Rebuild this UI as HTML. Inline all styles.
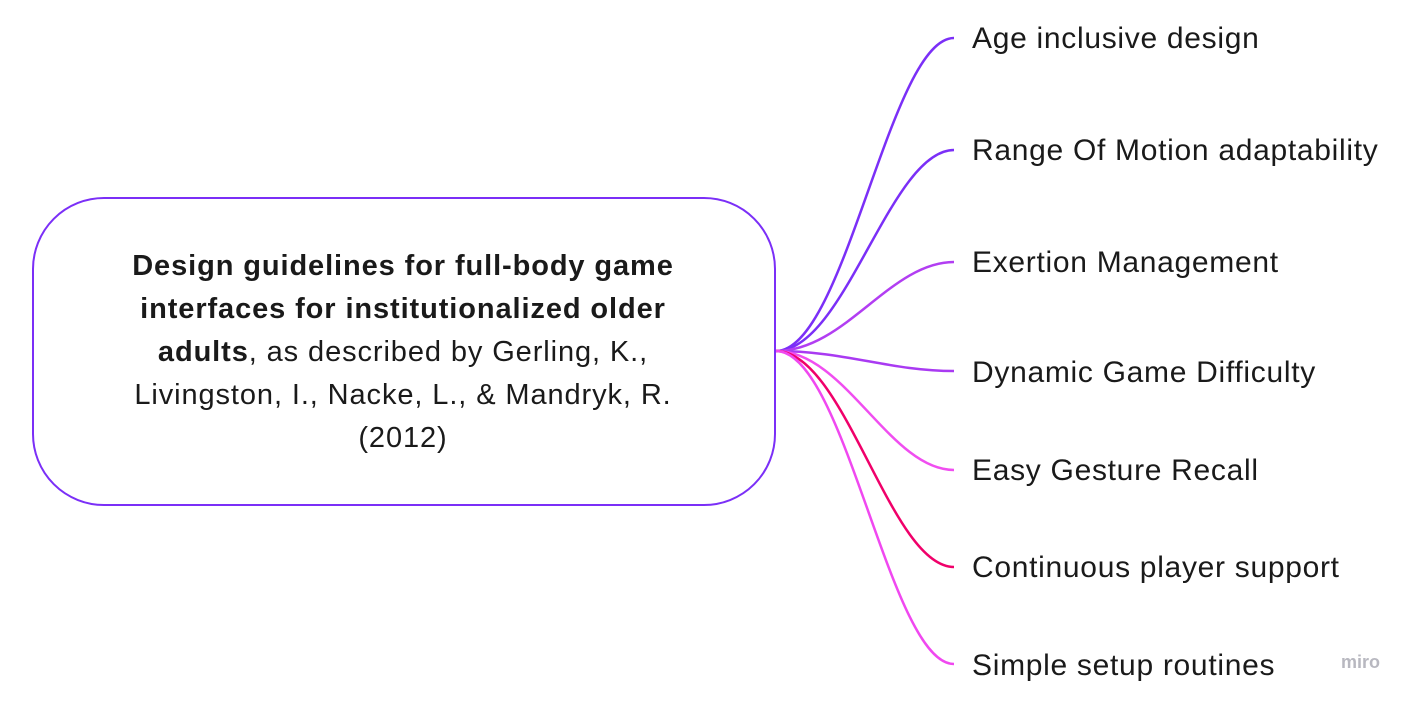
<!DOCTYPE html>
<html><head><meta charset="utf-8"><style>
body{margin:0;width:1420px;height:704px;background:#fff;position:relative;overflow:hidden;font-family:"Liberation Sans","DejaVu Sans",sans-serif;color:#1a1a1a}
.box{position:absolute;left:32px;top:197px;width:740px;height:305px;border:2px solid #7b2ff7;border-radius:72px;box-sizing:content-box}
.ct{position:absolute;left:40px;width:726px;top:245px;text-align:center;font-size:29px;letter-spacing:0.9px;line-height:43px;white-space:nowrap}
.l{position:absolute;left:972px;font-size:30px;letter-spacing:0.7px;line-height:34px;white-space:nowrap}
.miro{position:absolute;left:1341px;top:652px;font-size:18px;color:#b8b8c0;font-weight:bold}
</style></head><body>
<svg width="1420" height="704" style="position:absolute;left:0;top:0" fill="none" stroke-width="2.5">
<path d="M776 351 C845 351 890 38 954 38" stroke="#7b2ff7"/>
<path d="M776 351 C845 351 890 150 954 150" stroke="#7b2ff7"/>
<path d="M776 351 C845 351 890 262 954 262" stroke="#b23ef2"/>
<path d="M776 351 C845 351 890 371 954 371" stroke="#a93af2"/>
<path d="M776 351 C845 351 890 470 954 470" stroke="#f04ef0"/>
<path d="M776 351 C845 351 890 567 954 567" stroke="#f0006a"/>
<path d="M776 351 C845 351 890 664 954 664" stroke="#f048f0"/>
</svg>
<div class="box"></div>
<div class="ct"><b>Design guidelines for full-body game<br>interfaces for institutionalized older<br>adults</b>, as described by Gerling, K.,<br>Livingston, I., Nacke, L., &amp; Mandryk, R.<br>(2012)</div>
<div class="l" style="top:22px">Age inclusive design</div>
<div class="l" style="top:134px">Range Of Motion adaptability</div>
<div class="l" style="top:246px">Exertion Management</div>
<div class="l" style="top:356px">Dynamic Game Difficulty</div>
<div class="l" style="top:454px">Easy Gesture Recall</div>
<div class="l" style="top:551px">Continuous player support</div>
<div class="l" style="top:649px">Simple setup routines</div>
<div class="miro">miro</div>
</body></html>
